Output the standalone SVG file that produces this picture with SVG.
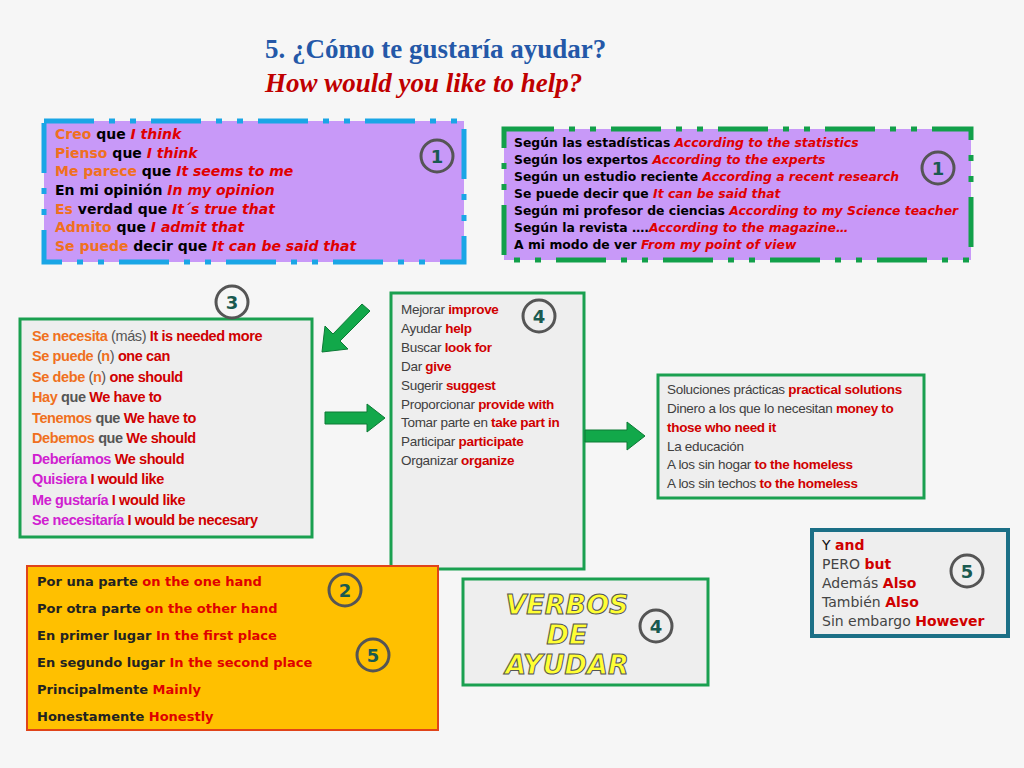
<svg xmlns="http://www.w3.org/2000/svg" width="1024" height="768" viewBox="0 0 1024 768">
<defs>
<style>
.c{font-family:"DejaVu Sans",sans-serif;font-size:14px;font-weight:bold}
.c5{font-family:"DejaVu Sans",sans-serif;font-size:14px}
.cb{font-family:"DejaVu Sans",sans-serif;font-size:12.4px;font-weight:bold}
.n{font-family:"Liberation Sans",Arial,sans-serif;font-size:14.5px;font-weight:bold;letter-spacing:-0.4px}
.a{font-family:"Liberation Sans",Arial,sans-serif;font-size:13.5px;fill:#404040;letter-spacing:-0.3px}
.o{font-family:"DejaVu Sans",sans-serif;font-size:13px;font-weight:bold;fill:#222}
.r{fill:#e00000}.ri{fill:#e00000;font-style:italic}.or{fill:#f07020}.mg{fill:#d020d0}.k{fill:#111}.g{fill:#555}
.rb{fill:#d00000;font-weight:bold}
.num circle{fill:none;stroke:#555;stroke-width:3}
.num text{font-family:"DejaVu Sans",sans-serif;font-size:18px;font-weight:bold;fill:#1a5a50;text-anchor:middle}
.gbox{fill:#eeeeee;stroke:#1aa050;stroke-width:3}
.arr{fill:#12a84a;stroke:#0c7a35;stroke-width:1}
</style>
</defs>
<rect width="1024" height="768" fill="#f6f6f6"/>
<g id="title" font-family="Liberation Serif,serif" font-weight="bold" font-size="27">
<text x="265" y="58" fill="#2458a8">5. ¿Cómo te gustaría ayudar?</text>
<text x="265" y="92" fill="#c00000" font-style="italic">How would you like to help?</text>
</g>
<g id="boxA">
<rect x="44" y="121" width="420" height="141" fill="#c899f8" stroke="#1aa6e6" stroke-width="5" stroke-dasharray="50 15 6 15 6 15"/>
<text class="c" x="55" y="139"><tspan class="or">Creo</tspan> que <tspan class="ri">I think</tspan></text>
<text class="c" x="55" y="158"><tspan class="or">Pienso</tspan> que <tspan class="ri">I think</tspan></text>
<text class="c" x="55" y="176"><tspan class="or">Me parece</tspan> que <tspan class="ri">It seems to me</tspan></text>
<text class="c" x="55" y="195">En mi opinión <tspan class="ri">In my opinion</tspan></text>
<text class="c" x="55" y="214"><tspan class="or">Es</tspan> verdad que <tspan class="ri">It´s true that</tspan></text>
<text class="c" x="55" y="232"><tspan class="or">Admito</tspan> que <tspan class="ri">I admit that</tspan></text>
<text class="c" x="55" y="251"><tspan class="or">Se puede</tspan> decir que <tspan class="ri">It can be said that</tspan></text>
<g class="num"><circle cx="437" cy="156" r="16"/><text x="437" y="163">1</text></g>
</g>
<g id="boxB">
<rect x="504" y="129" width="467" height="131" fill="#c899f8" stroke="#12a04a" stroke-width="5" stroke-dasharray="50 15 6 15 6 15"/>
<text class="cb" x="514" y="147">Según las estadísticas <tspan class="ri">According to the statistics</tspan></text>
<text class="cb" x="514" y="164">Según los expertos <tspan class="ri">According to the experts</tspan></text>
<text class="cb" x="514" y="181">Según un estudio reciente <tspan class="ri">According a recent research</tspan></text>
<text class="cb" x="514" y="198">Se puede decir que <tspan class="ri">It can be said that</tspan></text>
<text class="cb" x="514" y="215">Según mi profesor de ciencias <tspan class="ri">According to my Science teacher</tspan></text>
<text class="cb" x="514" y="232">Según la revista ….<tspan class="ri">According to the magazine…</tspan></text>
<text class="cb" x="514" y="249">A mi modo de ver <tspan class="ri">From my point of view</tspan></text>
<g class="num"><circle cx="938" cy="168" r="16"/><text x="938" y="175">1</text></g>
</g>
<g id="box3">
<rect class="gbox" x="20" y="319" width="292" height="218"/>
<text class="n" x="32" y="341"><tspan class="or">Se necesita</tspan> <tspan class="g" font-weight="normal">(más)</tspan> <tspan class="rb">It is needed more</tspan></text>
<text class="n" x="32" y="361"><tspan class="or">Se puede</tspan> <tspan class="g" font-weight="normal">(</tspan><tspan class="or">n</tspan><tspan class="g" font-weight="normal">)</tspan> <tspan class="rb">one can</tspan></text>
<text class="n" x="32" y="382"><tspan class="or">Se debe</tspan> <tspan class="g" font-weight="normal">(</tspan><tspan class="or">n</tspan><tspan class="g" font-weight="normal">)</tspan> <tspan class="rb">one should</tspan></text>
<text class="n" x="32" y="402"><tspan class="or">Hay</tspan> <tspan class="g">que</tspan> <tspan class="rb">We have to</tspan></text>
<text class="n" x="32" y="423"><tspan class="or">Tenemos</tspan> <tspan class="g">que</tspan> <tspan class="rb">We have to</tspan></text>
<text class="n" x="32" y="443"><tspan class="or">Debemos</tspan> <tspan class="g">que</tspan> <tspan class="rb">We should</tspan></text>
<text class="n" x="32" y="464"><tspan class="mg">Deberíamos</tspan> <tspan class="rb">We should</tspan></text>
<text class="n" x="32" y="484"><tspan class="mg">Quisiera</tspan> <tspan class="rb">I would like</tspan></text>
<text class="n" x="32" y="505"><tspan class="mg">Me gustaría</tspan> <tspan class="rb">I would like</tspan></text>
<text class="n" x="32" y="525"><tspan class="mg">Se necesitaría</tspan> <tspan class="rb">I would be necesary</tspan></text>
<g class="num"><circle cx="232" cy="302" r="16"/><text x="232" y="309">3</text></g>
</g>
<g id="box4">
<rect class="gbox" x="391" y="293" width="193" height="276"/>
<text class="a" x="401" y="314">Mejorar <tspan class="rb">improve</tspan></text>
<text class="a" x="401" y="333">Ayudar <tspan class="rb">help</tspan></text>
<text class="a" x="401" y="352">Buscar <tspan class="rb">look for</tspan></text>
<text class="a" x="401" y="371">Dar <tspan class="rb">give</tspan></text>
<text class="a" x="401" y="390">Sugerir <tspan class="rb">suggest</tspan></text>
<text class="a" x="401" y="409">Proporcionar <tspan class="rb">provide with</tspan></text>
<text class="a" x="401" y="427">Tomar parte en <tspan class="rb">take part in</tspan></text>
<text class="a" x="401" y="446">Participar <tspan class="rb">participate</tspan></text>
<text class="a" x="401" y="465">Organizar <tspan class="rb">organize</tspan></text>
<g class="num"><circle cx="539" cy="316" r="16"/><text x="539" y="323">4</text></g>
</g>
<g id="boxSol">
<rect class="gbox" x="658" y="375" width="266" height="123"/>
<text class="a" x="667" y="394">Soluciones prácticas <tspan class="rb">practical solutions</tspan></text>
<text class="a" x="667" y="413">Dinero a los que lo necesitan  <tspan class="rb">money to</tspan></text>
<text class="a" x="667" y="432"><tspan class="rb">those who need it</tspan></text>
<text class="a" x="667" y="451">La educación</text>
<text class="a" x="667" y="469">A los sin hogar <tspan class="rb">to the homeless</tspan></text>
<text class="a" x="667" y="488">A los sin techos <tspan class="rb">to the homeless</tspan></text>
</g>
<g id="boxOrange">
<rect x="27" y="566" width="411" height="164" fill="#ffc000" stroke="#e0441a" stroke-width="2"/>
<text class="o" x="37" y="586">Por una parte  <tspan class="r">on the one hand</tspan></text>
<text class="o" x="37" y="613">Por otra parte <tspan class="r">on the other hand</tspan></text>
<text class="o" x="37" y="640">En primer lugar <tspan class="r">In the first place</tspan></text>
<text class="o" x="37" y="667">En segundo lugar <tspan class="r">In the second place</tspan></text>
<text class="o" x="37" y="694">Principalmente <tspan class="r">Mainly</tspan></text>
<text class="o" x="37" y="721">Honestamente <tspan class="r">Honestly</tspan></text>
<g class="num"><circle cx="345" cy="590" r="16"/><text x="345" y="597">2</text></g>
<g class="num"><circle cx="373" cy="655" r="16"/><text x="373" y="662">5</text></g>
</g>
<g id="boxVerbos">
<rect class="gbox" x="463" y="579" width="245" height="106"/>
<g font-family="DejaVu Sans,sans-serif" font-size="27" font-weight="bold" font-style="italic" fill="#ffff33" stroke="#555" stroke-width="1" text-anchor="middle">
<text x="567" y="614">VERBOS</text>
<text x="567" y="644">DE</text>
<text x="567" y="674">AYUDAR</text>
</g>
<g class="num"><circle cx="656" cy="626" r="16"/><text x="656" y="633">4</text></g>
</g>
<g id="box5">
<rect x="812" y="530" width="196" height="106" fill="#eeeeee" stroke="#1b6f86" stroke-width="4"/>
<text class="c5" x="822" y="550"><tspan class="k">Y</tspan> <tspan class="rb">and</tspan></text>
<text class="c5" x="822" y="569" fill="#444">PERO <tspan class="rb">but</tspan></text>
<text class="c5" x="822" y="588" fill="#444">Además <tspan class="rb">Also</tspan></text>
<text class="c5" x="822" y="607" fill="#444">También <tspan class="rb">Also</tspan></text>
<text class="c5" x="822" y="626" fill="#444">Sin embargo <tspan class="rb">However</tspan></text>
<g class="num"><circle cx="967" cy="571" r="16"/><text x="967" y="578">5</text></g>
</g>
<g id="connectors">
<path class="arr" d="M362,304 L370,311 L340,341 L348,349 L322,352 L325,326 L333,334 Z"/>
<path class="arr" d="M325,412 L367,412 L367,404 L385,418 L367,432 L367,424 L325,424 Z"/>
<path class="arr" d="M585,430 L627,430 L627,422 L645,436 L627,450 L627,442 L585,442 Z"/>
</g>
</svg>
